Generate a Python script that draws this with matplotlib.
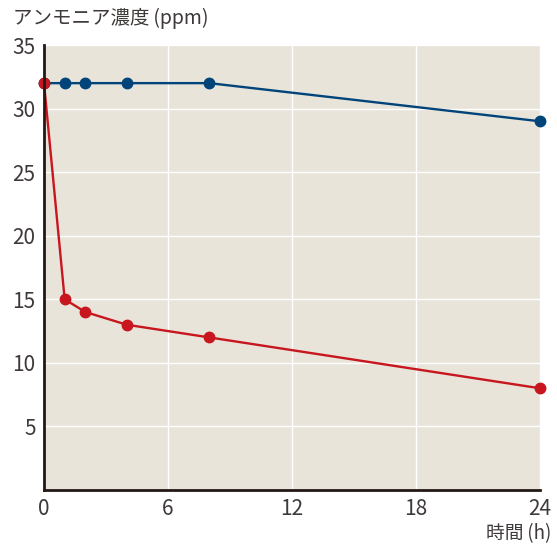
import matplotlib
matplotlib.use("Agg")
import matplotlib.pyplot as plt

hours = [0, 1, 2, 4, 8, 24]
blue_values = [32, 32, 32, 32, 32, 29]
red_values = [32, 15, 14, 13, 12, 8]
x_ticks = [0, 6, 12, 18, 24]
y_ticks = [5, 10, 15, 20, 25, 30, 35]

plt.rcParams['font.family'] = ['Noto Sans CJK JP', 'DejaVu Sans']

fig = plt.figure(figsize=(5.57, 5.46), dpi=100)
ax = fig.add_axes([44/557, 1 - 490/546, (540-44)/557, (490-45)/546])
ax.set_facecolor('#e8e4da')
ax.set_xlim(0, 24)
ax.set_ylim(0, 35)
ax.set_xticks(x_ticks)
ax.set_yticks(y_ticks)
ax.grid(True, color='white', linewidth=1.0)
ax.set_axisbelow(True)
for s in ['top', 'right']:
    ax.spines[s].set_visible(False)
for s in ['left', 'bottom']:
    ax.spines[s].set_color('#231815')
    ax.spines[s].set_linewidth(2)
    ax.spines[s].set_zorder(5)
ax.tick_params(length=0, labelsize=15, colors='#3e3a39')
ax.tick_params(axis='y', pad=6)
ax.tick_params(axis='x', pad=6)

ax.plot(hours, blue_values, color='#00447a', linewidth=1.7, marker='o', markersize=7.5, clip_on=False, zorder=3)
ax.plot(hours, red_values, color='#c8161e', linewidth=1.7, marker='o', markersize=7.5, clip_on=False, zorder=4)

fig.text(13/557, 1 - 18/546, 'アンモニア濃度\u2009(ppm)', fontsize=14, color='#3e3a39', ha='left', va='center')
fig.text(551/557, 1 - 534/546, '時間\u2009(h)', fontsize=13.5, color='#3e3a39', ha='right', va='center')

fig.savefig('out.png', dpi=100)
